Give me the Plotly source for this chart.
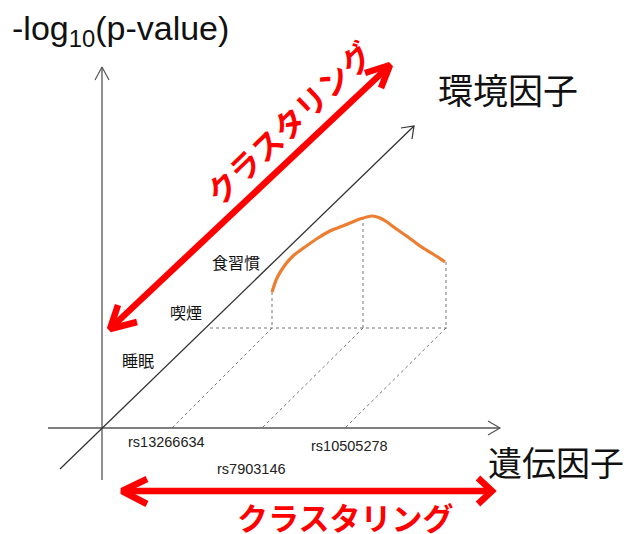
import plotly.graph_objects as go

W, H = 629, 534
RED = "#ff0000"
ORANGE = "#ed7d31"
JP = "Noto Sans CJK JP"
LAT = "Liberation Sans, Arial"

# --- diagram geometry (diagram units = pixels of the 629x534 canvas) ---
y_axis = ([102, 102], [480, 67])
x_axis = ([48, 500], [428, 428])
env_axis = ([60, 414], [469, 126])

# Orange curve of -log10(p) over (gene, environment) plane
curve_x = [272, 277, 285, 293, 305, 318, 330, 345, 360, 372, 380, 387, 395, 408, 420, 433, 445]
curve_y = [292, 278, 265, 256, 247, 238, 231, 225, 219, 216, 218, 222, 228, 237, 246, 254, 262]

# Projection guides
base_y = 328
base_x = [210, 448]
drop_x = [272, 363, 446]
drop_top = [292, 217, 262]
diag_bottom_x = [172, 262, 345]

# Labels
env_labels = ["食習慣", "喫煙", "睡眠"]
env_lx = [236, 186, 138]
env_ly = [262, 312, 360]
snp_labels = ["rs13266634", "rs10505278", "rs7903146"]
snp_lx = [166, 349, 251]
snp_ly = [442, 446, 469]

fig = go.Figure()

def line(xs, ys, color="#444", width=1.2, dash=None):
    fig.add_trace(go.Scatter(x=xs, y=ys, mode="lines", hoverinfo="skip",
                             line=dict(color=color, width=width, dash=dash),
                             showlegend=False))

# dotted guides
line(base_x, [base_y, base_y], "#777", 1, "dot")
for dx, dt, bx in zip(drop_x, drop_top, diag_bottom_x):
    line([dx, dx], [dt, base_y], "#777", 1, "dot")
    line([dx, bx], [base_y, 428], "#777", 1, "dot")

# axes
line(*y_axis, "#555", 1.3)
line([95, 102, 109], [80, 67, 80], "#555", 1.2)
line(*x_axis, "#555", 1.3)
line([488, 500, 488], [421, 428, 435], "#555", 1.2)
line(*env_axis, "#333", 1.3)
line([401, 414, 412], [128, 126, 139], "#333", 1.2)

# orange curve
fig.add_trace(go.Scatter(x=curve_x, y=curve_y, mode="lines", hoverinfo="skip",
                         line=dict(color=ORANGE, width=3.2, shape="spline", smoothing=0.8),
                         showlegend=False))

# red diagonal double arrow
line([114, 386], [325, 69], RED, 6.5)
line([365, 390, 381], [73, 65, 88], RED, 6.5)
line([118, 110, 137], [305, 329, 322], RED, 6.5)
# red horizontal double arrow
line([126, 488], [491, 491], RED, 6.5)
line([147, 122, 147], [479, 491, 504], RED, 6.5)
line([478, 492, 478], [478, 491, 504], RED, 6.5)

ann = []
ann.append(dict(x=10, y=30, xanchor="left", yanchor="middle",
                text="-log<sub>10</sub>(p-value)",
                font=dict(family=LAT, size=34, color="#111")))
ann.append(dict(x=508, y=88, xanchor="center", yanchor="middle", text="環境因子",
                font=dict(family=JP, size=35, color="#111")))
ann.append(dict(x=556, y=461, xanchor="center", yanchor="middle", text="遺伝因子",
                font=dict(family=JP, size=34, color="#111")))
ann.append(dict(x=288, y=122, xanchor="center", yanchor="middle", text="クラスタリング",
                textangle=-44,
                font=dict(family=JP, size=31, color=RED, weight="bold")))
ann.append(dict(x=345, y=516, xanchor="center", yanchor="middle", text="クラスタリング",
                font=dict(family=JP, size=31, color=RED, weight="bold")))
for t, x, y in zip(env_labels, env_lx, env_ly):
    ann.append(dict(x=x, y=y, xanchor="center", yanchor="middle", text=t,
                    font=dict(family=JP, size=16, color="#111")))
for t, x, y in zip(snp_labels, snp_lx, snp_ly):
    ann.append(dict(x=x, y=y, xanchor="center", yanchor="middle", text=t,
                    font=dict(family=LAT, size=14.5, color="#222")))
for a in ann:
    a.update(xref="x", yref="y", showarrow=False)

fig.update_layout(
    width=W, height=H, margin=dict(l=0, r=0, t=0, b=0),
    paper_bgcolor="white", plot_bgcolor="white",
    xaxis=dict(range=[0, W], visible=False, fixedrange=True),
    yaxis=dict(range=[H, 0], visible=False, fixedrange=True),
    annotations=ann,
)
fig.write_html("out.html", config={"displayModeBar": False},
               post_script="document.body.style.margin='0';document.body.style.overflow='hidden';")
